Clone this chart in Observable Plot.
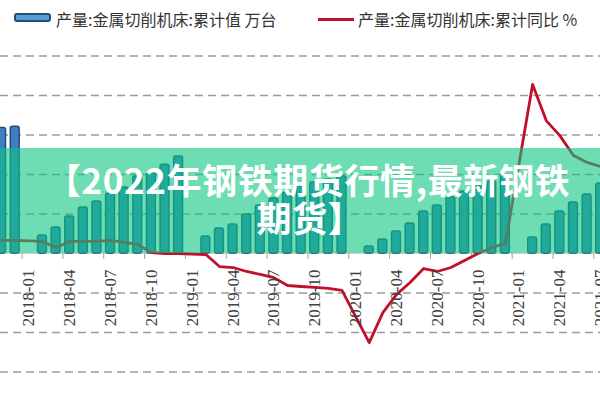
<!DOCTYPE html>
<html><head><meta charset="utf-8">
<script src="https://cdn.jsdelivr.net/npm/d3@7"></script>
<script src="https://cdn.jsdelivr.net/npm/@observablehq/plot@0.6"></script>
<style>
body{margin:0;background:#fff;}
#wrap{position:relative;width:600px;height:400px;overflow:hidden;background:#fff;}
#chart{position:absolute;left:0;top:0;}
.lg{position:absolute;font-family:"Noto Sans CJK SC","Noto Sans",sans-serif;font-size:16px;color:#333;line-height:20px;white-space:nowrap;}
#sw1{position:absolute;left:14px;top:13px;width:33px;height:5px;border:2.5px solid #1f4e79;border-radius:3px;background:#5b9bd5;}
#sw2{position:absolute;left:318px;top:18px;width:36px;height:3px;background:#c0102a;}
#banner{position:absolute;left:0;top:148px;width:600px;height:105px;background:rgba(13,198,130,0.6);}
.bt{position:absolute;left:0;width:600px;height:36px;color:#fff;font-family:"Noto Sans CJK SC",sans-serif;font-weight:700;
  font-size:35px;line-height:36px;text-align:center;white-space:nowrap;letter-spacing:0.6px;}
</style></head><body>
<div id="wrap">
  <div id="chart"></div>
  <div id="sw1"></div><div class="lg" style="left:56px;top:9px">产量:金属切削机床:累计值 万台</div>
  <div id="sw2"></div><div class="lg" style="left:358px;top:9px">产量:金属切削机床:累计同比 %</div>
  <div id="banner"></div>
  <div class="bt" style="top:161px;left:8px">【2022年钢铁期货行情,最新钢铁</div>
  <div class="bt" style="top:199px;left:10px">期货】</div>
</div>
<script>
// full monthly category domain
const months = [
  "2017-11","2017-12",
  "2018-01","2018-02","2018-03","2018-04","2018-05","2018-06","2018-07","2018-08","2018-09","2018-10","2018-11","2018-12",
  "2019-01","2019-02","2019-03","2019-04","2019-05","2019-06","2019-07","2019-08","2019-09","2019-10","2019-11","2019-12",
  "2020-01","2020-02","2020-03","2020-04","2020-05","2020-06","2020-07","2020-08","2020-09","2020-10","2020-11","2020-12",
  "2021-01","2021-02","2021-03","2021-04","2021-05","2021-06","2021-07"
];
// months with data (no January figures)
const dataMonths = [
  "2017-11","2017-12",
  "2018-02","2018-03","2018-04","2018-05","2018-06","2018-07","2018-08","2018-09","2018-10","2018-11","2018-12",
  "2019-02","2019-03","2019-04","2019-05","2019-06","2019-07","2019-08","2019-09","2019-10","2019-11","2019-12",
  "2020-02","2020-03","2020-04","2020-05","2020-06","2020-07","2020-08","2020-09","2020-10","2020-11","2020-12",
  "2021-02","2021-03","2021-04","2021-05","2021-06","2021-07"
];
// 产量:金属切削机床:累计值 (万台)
const cumValues = [
  63.5, 64.2,
  9.1, 13.2, 18.7, 23.3, 26.3, 30.4, 33.4, 39.0, 40.5, 45.0, 49.1,
  8.6, 12.7, 14.7, 19.7, 24.3, 27.8, 30.9, 33.9, 36.0, 37.5, 39.0,
  3.5, 7.1, 11.1, 15.2, 21.3, 24.3, 28.4, 31.4, 33.9, 36.5, 39.5,
  8.1, 14.7, 21.3, 25.8, 29.9, 35.4
];
// 产量:金属切削机床:累计同比 (%)
const yoyValues = [
  6.6, 6.6,
  6.1, 3.0, 6.1, 6.1, 6.1, 6.6, 5.6, 4.6, 0.5, 0.0, 0.0,
  -0.5, -6.6, -7.1, -9.1, -10.6, -12.2, -16.2, -16.7, -17.2, -17.7, -18.7,
  -45.1, -29.9, -20.8, -14.7, -7.6, -9.1, -7.1, -3.5, 0.0, 3.0, 5.1,
  85.6, 67.3, 59.7, 49.6, 46.1, 44.0
];
const tickLabels = ["2018-01","2018-04","2018-07","2018-10","2019-01","2019-04","2019-07","2019-10",
  "2020-01","2020-04","2020-07","2020-10","2021-01","2021-04","2021-07"];
const gridValues = [-60, -40, -20, 20, 40, 60, 80, 100];

const data = dataMonths.map((m, i) => ({month: m, cum: cumValues[i], yoy: yoyValues[i]}));
const xRange = [-5.7, 607];
const step = (xRange[1] - xRange[0]) / months.length;

const chart = Plot.plot({
  width: 600, height: 400,
  marginTop: 0, marginBottom: 0, marginLeft: 0, marginRight: 0,
  style: {background: "transparent", overflow: "visible"},
  x: {type: "band", domain: months, range: xRange, round: false, paddingInner: 0.35, paddingOuter: 0.175, align: 0.5, axis: null},
  y: {domain: [-74, 108], range: [399.15, 39.7], axis: null},
  marks: [
    Plot.ruleY(gridValues, {stroke: "#9a9a9a", strokeWidth: 1.4, strokeDasharray: "8,5"}),
    Plot.ruleY([0], {stroke: "#cfcfcf", strokeWidth: 1}),
    Plot.barY(data, {x: "month", y: "cum", fill: "#3d80c2", stroke: "#1f4e79", strokeWidth: 1.5, rx: 2}),
    Plot.ruleX(tickLabels, {x: d => d, y1: 0, y2: -3, dx: -step / 2, stroke: "#a0a0a0", strokeWidth: 1}),
    Plot.line(data, {x: "month", y: "yoy", stroke: "#c0102a", strokeWidth: 2.8, strokeLinejoin: "round"}),
    Plot.text(tickLabels, {x: d => d, y: 0, text: d => d, rotate: -90, textAnchor: "end", dy: 16,
      fontFamily: "Liberation Serif", fontSize: 17, fill: "#404040"})
  ]
});
document.getElementById("chart").appendChild(chart);
</script>
</body></html>
